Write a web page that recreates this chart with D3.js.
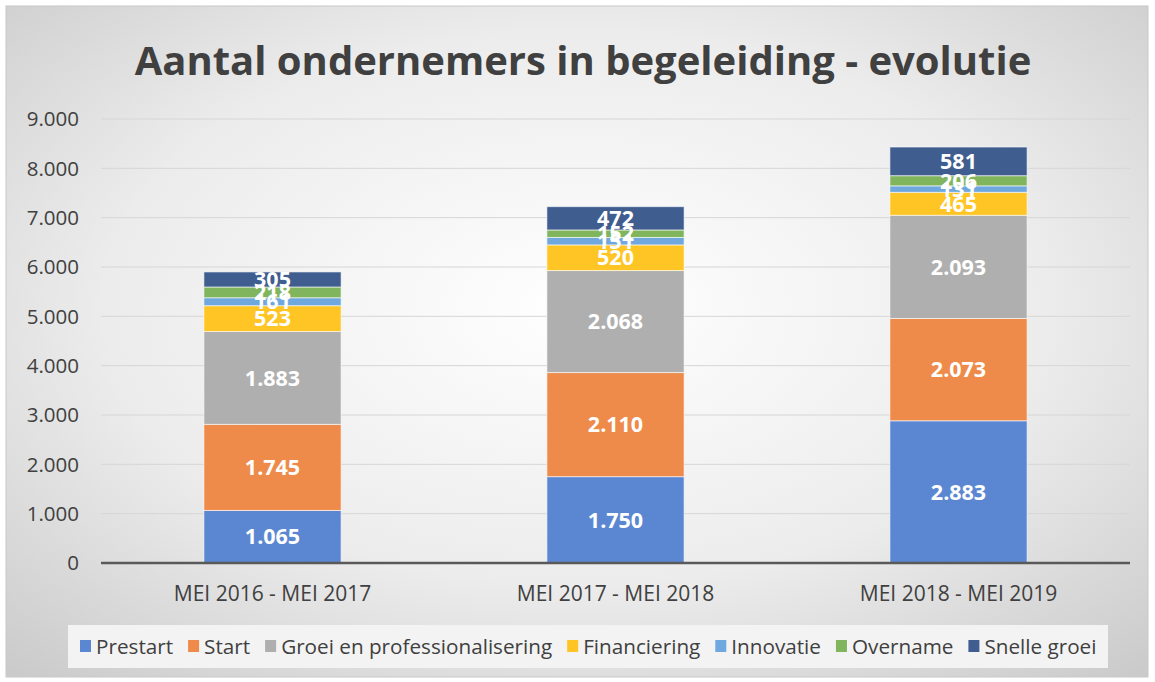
<!DOCTYPE html>
<html><head><meta charset="utf-8">
<script src="https://cdn.jsdelivr.net/npm/d3@7"></script>
<style>
html,body{margin:0;padding:0;background:#fff;}
svg{display:block;font-family:"Open Sans",sans-serif;}
</style></head>
<body>
<svg id="c" width="1155" height="682"></svg>
<script>
const categories = ["MEI 2016 - MEI 2017","MEI 2017 - MEI 2018","MEI 2018 - MEI 2019"];
const seriesNames = ["Prestart","Start","Groei en professionalisering","Financiering","Innovatie","Overname","Snelle groei"];
const prestart = [1065,1750,2883];
const start = [1745,2110,2073];
const groei = [1883,2068,2093];
const financiering = [523,520,465];
const innovatie = [161,151,131];
const overname = [218,152,206];
const snelleGroei = [305,472,581];
const yTicks = [0,1000,2000,3000,4000,5000,6000,7000,8000,9000];
const colors = ["#5B87D2","#EE8B4A","#AFAFAF","#FFC524","#6FA8DE","#80B55E","#3F5D8F"];

const seriesValues = [prestart,start,groei,financiering,innovatie,overname,snelleGroei];
const rows = categories.map((c,i)=>{const r={cat:c}; seriesNames.forEach((s,j)=>r[s]=seriesValues[j][i]); return r;});
const stack = d3.stack().keys(seriesNames)(rows);

const svg = d3.select("#c");
const defs = svg.append("defs");
const rg = defs.append("radialGradient").attr("id","bg").attr("cx","50%").attr("cy","45%").attr("r","75%");
rg.append("stop").attr("offset","0%").attr("stop-color","#ffffff");
rg.append("stop").attr("offset","55%").attr("stop-color","#ececec");
rg.append("stop").attr("offset","100%").attr("stop-color","#c9c9c9");
svg.append("rect").attr("x",6).attr("y",6).attr("width",1142).attr("height",671)
  .attr("fill","url(#bg)").attr("stroke","#c8c8c8").attr("stroke-width",1);

svg.append("text").attr("x",583).attr("y",75).attr("text-anchor","middle")
  .attr("font-size",40).attr("font-weight","bold").attr("fill","#404040")
  .text("Aantal ondernemers in begeleiding - evolutie");

const x = d3.scaleBand().domain(categories).range([101,1130]).paddingInner(0.6).paddingOuter(0.3);
const y = d3.scaleLinear().domain([0,9000]).range([563,119]);

const g = svg.append("g");
g.selectAll("line.grid").data(yTicks.slice(1)).join("line")
  .attr("x1",101).attr("x2",1130).attr("y1",d=>y(d)).attr("y2",d=>y(d))
  .attr("stroke","#d6d6d6").attr("stroke-width",1);

const fmt = d3.formatLocale({decimal:",",thousands:".",grouping:[3],currency:["",""]}).format(",d");
g.selectAll("text.yt").data(yTicks).join("text")
  .attr("x",79).attr("y",d=>y(d)).attr("dy","0.35em").attr("text-anchor","end")
  .attr("font-size",20.5).attr("fill","#404040").text(d=>fmt(d));

stack.forEach((layer,j)=>{
  const lg = g.append("g");
  lg.selectAll("rect").data(layer).join("rect")
    .attr("x",d=>x(d.data.cat)).attr("width",x.bandwidth())
    .attr("y",d=>y(d[1])).attr("height",d=>y(d[0])-y(d[1]))
    .attr("fill",colors[j]).attr("stroke","#ffffff").attr("stroke-opacity",0.6).attr("stroke-width",1);
});
stack.forEach((layer,j)=>{
  g.append("g").selectAll("text").data(layer).join("text")
    .attr("x",d=>x(d.data.cat)+x.bandwidth()/2).attr("y",d=>(y(d[0])+y(d[1]))/2).attr("dy","0.36em")
    .attr("text-anchor","middle").attr("font-size",21.5).attr("font-weight","bold").attr("fill","#ffffff")
    .text(d=>fmt(d[1]-d[0]));
});

g.append("line").attr("x1",101).attr("x2",1130).attr("y1",y(0)).attr("y2",y(0))
  .attr("stroke","#595959").attr("stroke-width",2.5);

g.selectAll("text.xl").data(categories).join("text")
  .attr("x",d=>x(d)+x.bandwidth()/2).attr("y",601).attr("text-anchor","middle")
  .attr("font-size",21).attr("fill","#404040").text(d=>d);

// legend
svg.append("rect").attr("x",68).attr("y",625).attr("width",1040).attr("height",43).attr("fill","#f3f3f3");
const leg = svg.append("g");
let cx = 80;
seriesNames.forEach((s,j)=>{
  leg.append("rect").attr("x",cx).attr("y",640).attr("width",11).attr("height",12).attr("fill",colors[j]);
  const t = leg.append("text").attr("x",cx+16).attr("y",654).attr("font-size",20.7).attr("fill","#404040").text(s);
  cx = cx + 16 + t.node().getComputedTextLength() + 15;
});
</script>
</body></html>
